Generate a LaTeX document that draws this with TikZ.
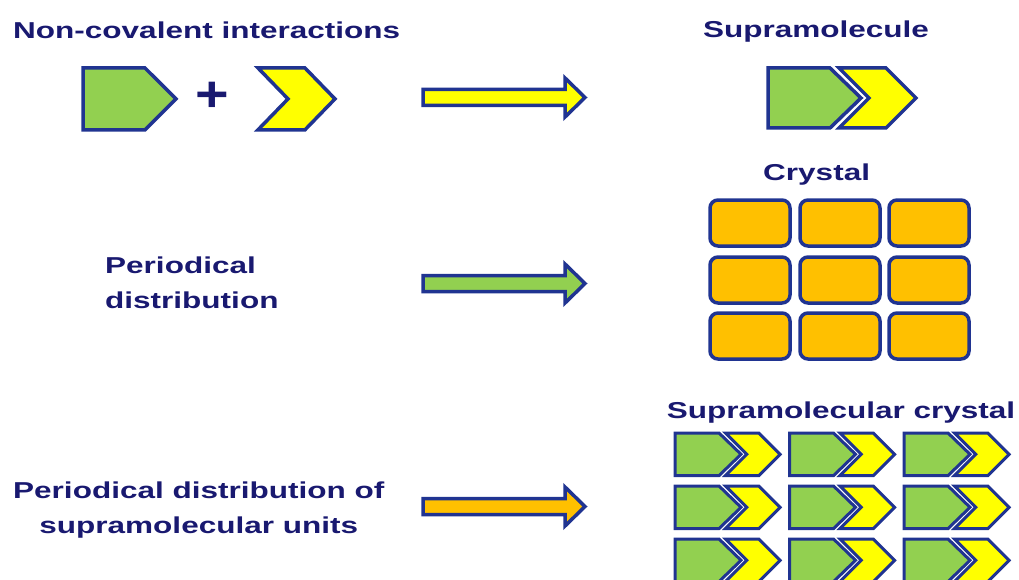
\documentclass[tikz,border=0pt]{standalone}
\usepackage{fontspec}
\newfontfamily\labelfont{Liberation Sans}[FakeStretch=1.37]
\newfontfamily\plusfont{Liberation Sans}[FakeStretch=1.15]
\definecolor{ink}{RGB}{25,25,112}
\definecolor{rim}{RGB}{32,52,145}
\definecolor{leaf}{RGB}{146,208,80}
\definecolor{lemon}{RGB}{255,255,0}
\definecolor{amber}{RGB}{255,192,0}

\tikzset{
  label text/.style={font=\labelfont\bfseries\fontsize{23}{35}\selectfont,
    text=ink, inner sep=0pt},
  rimline/.style={draw=rim, line width=3.5pt, line join=miter},
  % green pentagon (left part of a supramolecular unit)
  pentagon/.pic={\path[rimline, fill=leaf]
    (0,0) -- (62,0) -- (93,30) -- (62,60) -- (0,60) -- cycle;},
  % yellow chevron (right part of a supramolecular unit)
  chevron/.pic={\path[rimline, fill=lemon]
    (0,0) -- (47,0) -- (77,30) -- (47,60) -- (0,60) -- (30,30) -- cycle;},
  % pentagon and chevron nested together, with a thin gap between them
  unit/.pic={
    \path[rimline, fill=leaf]
      (0,0) -- (62,0) -- (93,30) -- (62,60) -- (0,60) -- cycle;
    \path[rimline, fill=lemon]
      (71,0) -- (118,0) -- (148,30) -- (118,60) -- (71,60) -- (101,30) -- cycle;},
  cell/.style={rimline, fill=amber, rounded corners=8pt},
  % wide block arrow, origin at the middle of its tail
  blockarrow/.pic={\path[rimline, fill=#1]
    (0,-8) -- (142,-8) -- (142,-19.5) -- (162,0) -- (142,19.5)
    -- (142,8) -- (0,8) -- cycle;},
}

\begin{document}
\begin{tikzpicture}[x=1pt, y=-1pt]
\useasboundingbox (0,0) rectangle (1019,580);

% ---- row 1: non-covalent interactions -> supramolecule
\node[label text, anchor=base west] (nc) at (13,39) {Non-covalent interactions};
\pic[yscale=1.03] at (83,68) {pentagon};
\node[text=ink, inner sep=0pt, font=\plusfont\bfseries\fontsize{50}{50}\selectfont]
  (plus) at (212,97) {+};
\pic[yscale=1.03] at (258,68) {chevron};
\pic at (423,97.5) {blockarrow=lemon};
\node[label text, anchor=base] (sm) at (816,38) {Supramolecule};
\pic at (768,68) {unit};

% ---- row 2: periodical distribution -> crystal
\node[label text, anchor=base west, align=left] (pd) at (105,308)
  {Periodical\\distribution};
\pic at (423,283.5) {blockarrow=leaf};
\node[label text, anchor=base west] (cr) at (763,181) {Crystal};
\foreach \cx in {710,800,889}
  \foreach \cy in {200,257,313}
    \draw[cell] (\cx,\cy) rectangle ++(80,46);

% ---- row 3: periodical distribution of units -> supramolecular crystal
\node[label text, anchor=base west, align=center] (pu) at (13,533)
  {Periodical distribution of\\supramolecular units};
\pic at (423,506.5) {blockarrow=amber};
\node[label text, anchor=base] (sc) at (841,418) {Supramolecular crystal};
\begin{scope}[rimline/.append style={line width=3pt}]
\foreach \ux in {675,789.5,904}
  \foreach \uy in {433,486,539}
    \pic[scale=0.71] at (\ux,\uy) {unit};
\end{scope}
\end{tikzpicture}
\end{document}
